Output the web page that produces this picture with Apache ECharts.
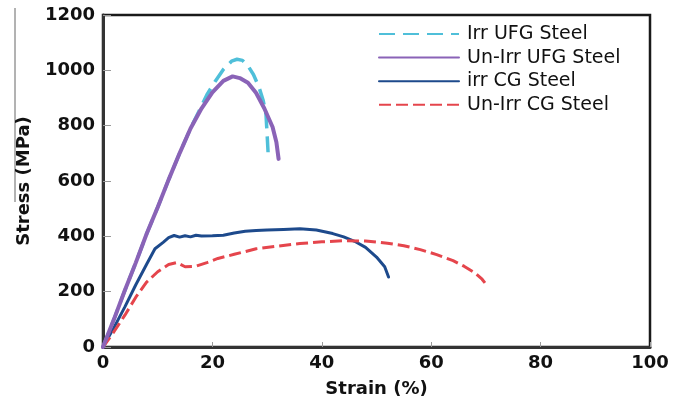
<!DOCTYPE html>
<html>
<head>
<meta charset="utf-8">
<script src="https://cdn.jsdelivr.net/npm/echarts@6/dist/echarts.min.js"></script>
<style>
  html, body { margin: 0; padding: 0; background: #fff; }
  #chart { width: 679px; height: 401px; }
</style>
</head>
<body>
<div id="chart"></div>
<script>
// strain (%) / stress (MPa) pairs
const irrUfg = [[0,0],[2,100],[4,205],[6,305],[8,410],[10,505],[12,605],[14,700],[16,790],[17.5,850],[19,912],[20.5,960],[22,1003],[23.5,1033],[24.5,1040],[25.5,1036],[26.5,1016],[27.5,985],[28.5,940],[29.3,890],[29.8,840],[30,770],[30.2,695]]
const unIrrUfg = [[0,0],[2,100],[4,205],[6,305],[8,410],[10,505],[12,605],[14,700],[16,790],[18,862],[20,920],[22,962],[23.7,978],[25,972],[26.5,955],[28,918],[29.5,862],[31,795],[31.7,740],[32.1,680]]
const irrCg = [[0,0],[2,70],[4,145],[6,225],[8,300],[9.5,355],[11,378],[12,395],[13,403],[14,397],[15,402],[16,398],[17,404],[18,401],[20,402],[22,404],[24,412],[26,418],[28,421],[30,423],[33,425],[36,427],[39,423],[42,410],[44,398],[46,382],[48,360],[50,325],[51.5,290],[52.2,253]]
const unIrrCg = [[0,0],[2,55],[4,115],[6,180],[8,235],[10,272],[12,298],[13.5,305],[15,290],[17,292],[19,305],[21,320],[24,335],[28,355],[32,365],[36,374],[40,380],[44,384],[48,383],[52,375],[55,366],[58,352],[61,334],[64,312],[66,292],[68,268],[69.3,245],[70.2,222]]

const seriesNames = ['Irr UFG Steel', 'Un-Irr UFG Steel', 'irr CG Steel', 'Un-Irr CG Steel']

const myChart = echarts.init(document.getElementById('chart'))

const labelFont = {
  color: '#111',
  fontSize: 18,
  fontWeight: 'bold',
  fontFamily: 'DejaVu Sans'
}

const option = {
  animation: false,
  grid: {
    left: 103,
    right: 29,
    top: 15,
    bottom: 54,
    outerBoundsMode: 'none',
    show: true,
    borderColor: '#1a1a1a',
    borderWidth: 2.5
  },
  legend: {
    orient: 'vertical',
    left: 373,
    top: 19,
    itemWidth: 80,
    itemHeight: 14,
    itemGap: 3.6,
    data: seriesNames,
    itemStyle: { opacity: 0 },
    textStyle: {
      color: '#111',
      fontSize: 19,
      lineHeight: 20,
      fontFamily: 'DejaVu Sans',
      padding: [0, 0, 0, 3]
    }
  },
  // thin stray rule at the far left of the original figure
  graphic: [{
    type: 'line',
    shape: { x1: 15, y1: 8, x2: 15, y2: 202 },
    style: { stroke: '#666', lineWidth: 1 }
  }],
  xAxis: {
    type: 'value',
    min: 0,
    max: 100,
    interval: 20,
    name: 'Strain (%)',
    nameLocation: 'middle',
    nameGap: 33,
    nameTextStyle: labelFont,
    axisLine: { lineStyle: { color: '#333', width: 3 } },
    axisTick: { inside: true, length: 5, lineStyle: { color: '#999' } },
    axisLabel: { ...labelFont, margin: 7 },
    splitLine: { show: false }
  },
  yAxis: {
    type: 'value',
    min: 0,
    max: 1200,
    interval: 200,
    name: 'Stress (MPa)',
    nameLocation: 'middle',
    nameGap: 70,
    nameTextStyle: labelFont,
    axisLine: { show: true, lineStyle: { color: '#333', width: 3 } },
    axisTick: { show: true, inside: true, length: 8, lineStyle: { color: '#999' } },
    axisLabel: { ...labelFont, margin: 8, formatter: (v) => String(v) },
    splitLine: { show: false }
  },
  series: [
    {
      name: seriesNames[0],
      type: 'line',
      symbol: 'none',
      z: 3,
      data: irrUfg,
      lineStyle: { color: '#4fbfd9', width: 3.5, type: [16, 8] },
      itemStyle: { color: '#4fbfd9' }
    },
    {
      name: seriesNames[1],
      type: 'line',
      symbol: 'none',
      z: 4,
      data: unIrrUfg,
      lineStyle: { color: '#8a63b7', width: 4, cap: 'round' },
      itemStyle: { color: '#8a63b7' }
    },
    {
      name: seriesNames[2],
      type: 'line',
      symbol: 'none',
      data: irrCg,
      lineStyle: { color: '#1d4a8c', width: 3, cap: 'round' },
      itemStyle: { color: '#1d4a8c' }
    },
    {
      name: seriesNames[3],
      type: 'line',
      symbol: 'none',
      data: unIrrCg,
      lineStyle: { color: '#e5454c', width: 3, type: [12, 5] },
      itemStyle: { color: '#e5454c' }
    }
  ]
}

myChart.setOption(option)

window.addEventListener('resize', () => {
  myChart.resize()
})
</script>
</body>
</html>
